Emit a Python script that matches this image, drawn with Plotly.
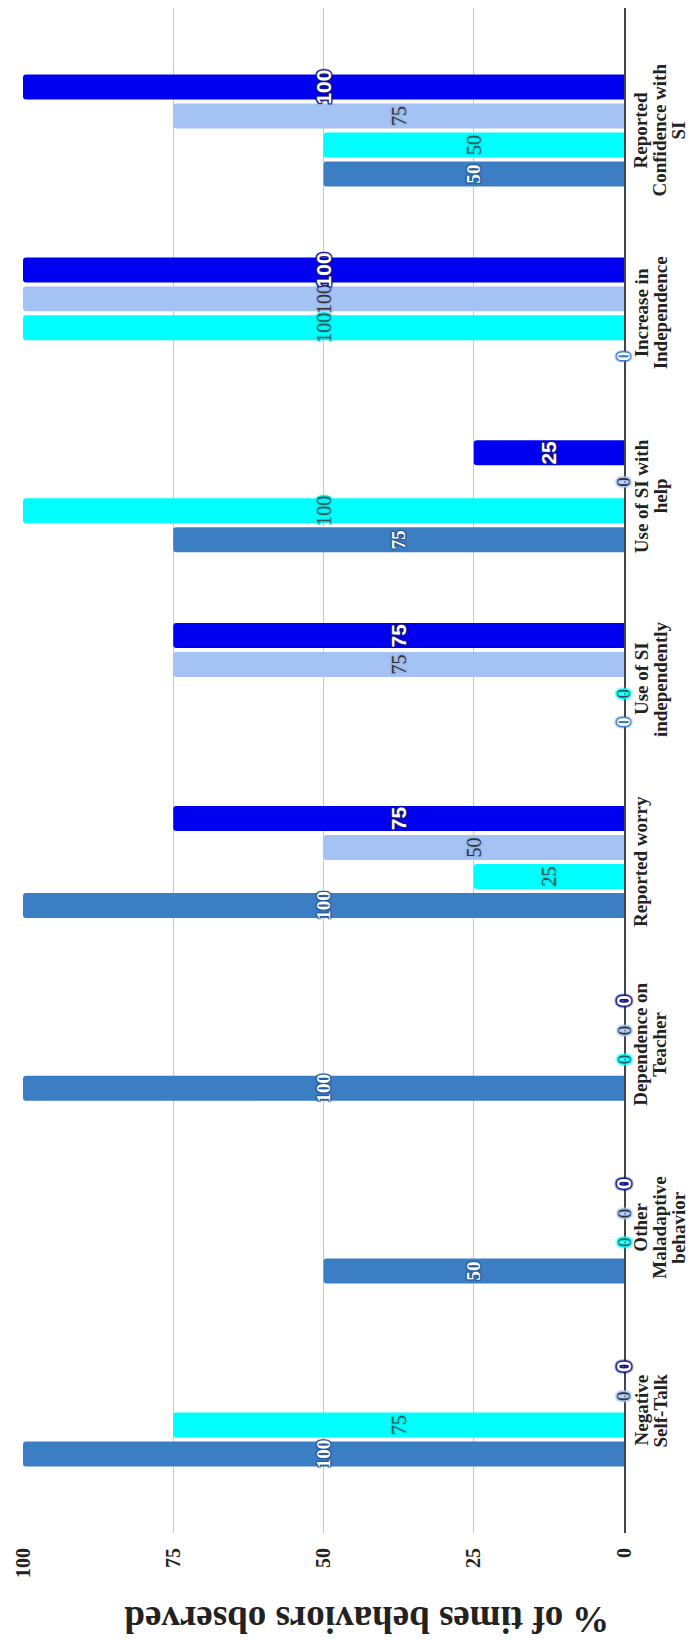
"""Grouped bar chart, drawn rotated (value axis runs right-to-left)"""
import plotly.graph_objects as go

CATEGORIES = [
    "Negative Self-Talk",
    "Other Maladaptive behavior",
    "Dependence on Teacher",
    "Reported worry",
    "Use of SI independently",
    "Use of SI with help",
    "Increase in Independence",
    "Reported Confidence with SI",
]
CATEGORY_LABELS = [
    "Negative<br>Self-Talk",
    "Other<br>Maladaptive<br>behavior",
    "Dependence on<br>Teacher",
    "Reported worry",
    "Use of SI<br>independently",
    "Use of SI with<br>help",
    "Increase in<br>Independence",
    "Reported<br>Confidence with<br>SI",
]

SERIES_1 = [100, 50, 100, 100, 0, 75, 0, 50]
SERIES_2 = [75, 0, 0, 25, 0, 100, 100, 50]
SERIES_3 = [0, 0, 0, 50, 75, 0, 100, 75]
SERIES_4 = [0, 0, 0, 75, 75, 25, 100, 100]

VALUE_TICKS = [0, 25, 50, 75, 100]
AXIS_TITLE = "% of times behaviors observed"

SERIF = "Liberation Serif, Times New Roman, serif"
SANS = "Liberation Sans, Arial, sans-serif"

# the page body keeps its default 8px margin, so the figure is 8px smaller
W, H = 689, 1634
MARGIN = dict(l=15, r=73, t=0, b=109)
Y_RANGE = [-0.67, 7.67]
BARGAP = 0.366


def halo(color: str, blur: int = 1) -> str:
    offsets = [(1, 1), (-1, -1), (1, -1), (-1, 1), (0, 1), (0, -1), (1, 0), (-1, 0)]
    return ", ".join(f"{dx}px {dy}px {blur}px {color}" for dx, dy in offsets)


series = [
    ("Series 1", SERIES_1, "#3c7ec4", dict(family=SERIF, size=19, color="white", weight="bold"), "#2a5e9a"),
    ("Series 2", SERIES_2, "#00ffff", dict(family=SERIF, size=20, color="#2e5a5a"), "#00eaea"),
    ("Series 3", SERIES_3, "#a4c2f4", dict(family=SERIF, size=20, color="#333333"), "#95b5ea"),
    ("Series 4", SERIES_4, "#0000f0", dict(family=SANS, size=21, color="white", weight="bold"), "#15158a"),
]

fig = go.Figure()
for name, values, color, font, edge in series:
    fig.add_trace(go.Bar(
        name=name,
        y=CATEGORIES,
        x=values,
        orientation="h",
        marker=dict(color=color, cornerradius=3, line=dict(width=0)),
        text=[str(v) for v in values],
        textposition="inside",
        insidetextanchor="middle",
        textangle=-90,
        constraintext="none",
        textfont=dict(font, shadow=halo(edge)),
        cliponaxis=False,
        hoverinfo="skip",
    ))

# zero-length bars carry no inside text, so their "0" labels sit on the baseline
plot_h = H - MARGIN["t"] - MARGIN["b"]
px_per_cat = plot_h / (Y_RANGE[1] - Y_RANGE[0])
slot = px_per_cat * (1 - BARGAP) / len(series)
for i, (name, values, color, font, edge) in enumerate(series):
    zero_font = dict(font, size=font["size"] - 1, shadow=halo(edge if i == 3 else color, 2))
    for cat, v in zip(CATEGORIES, values):
        if v == 0:
            fig.add_annotation(
                x=v, xref="x", y=cat, yref="y",
                yshift=(i - (len(series) - 1) / 2) * slot,
                text=str(v), textangle=-90, showarrow=False,
                xanchor="center", yanchor="middle",
                font=zero_font,
            )

# category labels on the right, one annotation per line for tight spacing
for cat, label in zip(CATEGORIES, CATEGORY_LABELS):
    for k, line in enumerate(label.split("<br>")):
        fig.add_annotation(
            x=1, xref="paper", y=cat, yref="y",
            text=line, textangle=-90, showarrow=False,
            xanchor="center", yanchor="middle",
            xshift=17 + k * 19,
            font=dict(family=SERIF, size=19, color="#222", weight="bold"),
        )

fig.add_annotation(
    x=0.572, xref="paper", y=0, yref="paper", yshift=-87,
    text=AXIS_TITLE, textangle=180, showarrow=False,
    xanchor="center", yanchor="middle",
    font=dict(family=SERIF, size=37, color="#222", weight="bold"),
)

fig.update_layout(
    width=W, height=H,
    margin=MARGIN,
    paper_bgcolor="white", plot_bgcolor="white",
    barmode="group", bargap=BARGAP, bargroupgap=0.138,
    showlegend=False,
    xaxis=dict(
        range=[100, 0], tickvals=VALUE_TICKS, tickangle=-90,
        showgrid=True, gridcolor="#c8c8c8", gridwidth=1,
        zeroline=False, showline=False, ticks="",
        tickfont=dict(family=SERIF, size=20, color="#222", weight="bold"),
        ticklabelstandoff=10,
    ),
    yaxis=dict(
        categoryorder="array", categoryarray=CATEGORIES,
        range=Y_RANGE, side="right",
        showline=True, linecolor="#444", linewidth=1.5,
        showgrid=False, ticks="", showticklabels=False,
    ),
)

fig.write_html("out.html")
